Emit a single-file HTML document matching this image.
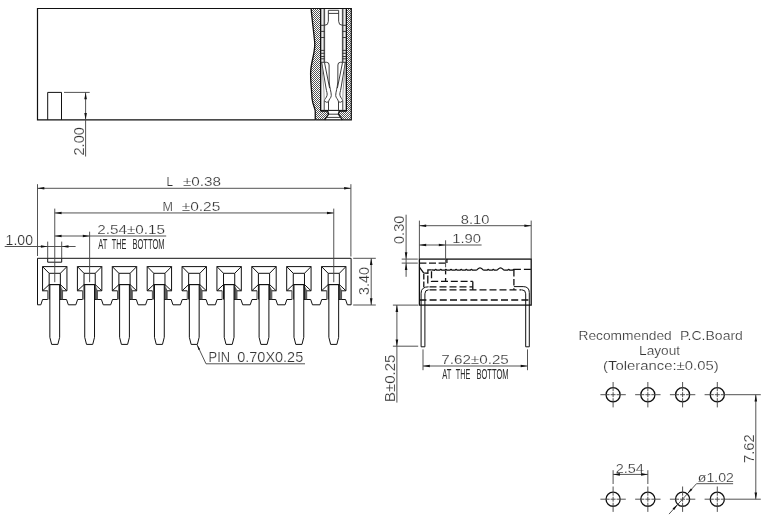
<!DOCTYPE html>
<html><head><meta charset="utf-8"><title>Drawing</title>
<style>
html,body{margin:0;padding:0;background:#fff;overflow:hidden;}
svg{display:block;}
.o{fill:none;stroke:#111;stroke-width:1;}
.o2{fill:none;stroke:#111;stroke-width:1.3;}
.o3{fill:none;stroke:#111;stroke-width:1.2;}
.n{fill:none;stroke:none;}
.d{fill:none;stroke:#4a4a4a;stroke-width:0.95;}
.h{stroke:#111;stroke-width:0.72;}
.e{fill:none;stroke:#888;stroke-width:0.8;}
.i{fill:none;stroke:#333;stroke-width:0.95;}
.a{fill:#111;stroke:none;}
.t{font-family:"Liberation Sans",sans-serif;fill:#333;stroke:#fff;stroke-width:0.2;}
.t2{font-family:"Liberation Sans",sans-serif;fill:#2a2a2a;}
</style></head><body>
<svg width="768" height="519" viewBox="0 0 768 519" style="filter:grayscale(1)">
<rect x="0" y="0" width="768" height="519" fill="#fff"/>
<path class="o3" d="M311.1,8.5 L37.5,8.5 L37.5,119.8 L315.25,119.8" />
<path class="o3" d="M311.1,8.5 L351.3,8.5 L351.3,119.8 L315.25,119.8" />
<path class="o" d="M47.7,119.8 L47.7,92.4 L61.5,92.4 L61.5,119.8" />
<line class="d" x1="64.00" y1="92.40" x2="89.70" y2="92.40" />
<line class="d" x1="85.60" y1="92.40" x2="85.60" y2="156.50" />
<polygon class="a" points="85.60,92.40 86.90,99.20 84.30,99.20"/>
<polygon class="a" points="85.60,119.80 84.30,113.00 86.90,113.00"/>
<text class="t" x="84.10" y="155.53" font-size="14.4" textLength="28.40" lengthAdjust="spacingAndGlyphs" transform="rotate(-90 84.10 155.53)">2.00</text>
<defs>
<clipPath id="hl"><path d="M311.1,8.5 C312.5,24 314.5,38 314.8,44 C314.6,56 310.6,62 310.6,74 C310.6,86 312,92 312,98.5 C313,106 315.25,108 315.25,111.5 L315.25,119.8 L324.6,119.8 L328.6,114.2 L327.7,111 L320.6,111 L320.6,8.5 Z"/></clipPath>
<clipPath id="hr"><path d="M346.6,8.5 L351.3,8.5 L351.3,119.8 L342.4,119.8 L338.5,114.2 L339.3,111 L346.6,111 Z"/></clipPath>
</defs>
<path class="o2" d="M311.1,8.5 C312.5,24 314.5,38 314.8,44 C314.6,56 310.6,62 310.6,74 C310.6,86 312,92 312,98.5 C313,106 315.25,108 315.25,111.5 L315.25,119.8" />
<line class="o" x1="320.50" y1="8.50" x2="320.50" y2="111.00" />
<line class="o" x1="346.50" y1="8.50" x2="346.50" y2="111.00" />
<path class="o2" d="M320.5,111 L327.7,111 L328.6,114.2 L324.6,119.8" />
<path class="o2" d="M346.5,111 L339.3,111 L338.4,114.2 L342.4,119.8" />
<line class="i" x1="328.60" y1="114.20" x2="338.40" y2="114.20" />
<line class="i" x1="326.20" y1="117.40" x2="340.80" y2="117.40" />
<line class="o" x1="321.00" y1="110.40" x2="346.00" y2="110.40" />
<line class="e" x1="321.60" y1="9.00" x2="321.60" y2="110.00" />
<line class="e" x1="323.40" y1="9.00" x2="323.40" y2="62.30" />
<line class="i" x1="324.60" y1="9.00" x2="324.60" y2="62.30" />
<path class="i" d="M328.35,10.3 L328.35,21.3 Q328.35,25.3 324.60,25.3" />
<line class="i" x1="320.50" y1="25.30" x2="324.60" y2="25.30" />
<line class="i" x1="320.50" y1="31.40" x2="324.60" y2="31.40" />
<line class="i" x1="320.50" y1="37.50" x2="324.60" y2="37.50" />
<line class="i" x1="320.50" y1="50.40" x2="324.60" y2="50.40" />
<line class="i" x1="320.50" y1="53.30" x2="324.60" y2="53.30" />
<line class="i" x1="320.50" y1="56.50" x2="324.60" y2="56.50" />
<line class="i" x1="320.50" y1="58.80" x2="324.60" y2="58.80" />
<line class="e" x1="345.40" y1="9.00" x2="345.40" y2="110.00" />
<line class="e" x1="343.60" y1="9.00" x2="343.60" y2="62.30" />
<line class="i" x1="342.40" y1="9.00" x2="342.40" y2="62.30" />
<path class="i" d="M338.65,10.3 L338.65,21.3 Q338.65,25.3 342.40,25.3" />
<line class="i" x1="346.50" y1="25.30" x2="342.40" y2="25.30" />
<line class="i" x1="346.50" y1="31.40" x2="342.40" y2="31.40" />
<line class="i" x1="346.50" y1="37.50" x2="342.40" y2="37.50" />
<line class="i" x1="346.50" y1="50.40" x2="342.40" y2="50.40" />
<line class="i" x1="346.50" y1="53.30" x2="342.40" y2="53.30" />
<line class="i" x1="346.50" y1="56.50" x2="342.40" y2="56.50" />
<line class="i" x1="346.50" y1="58.80" x2="342.40" y2="58.80" />
<line class="i" x1="328.35" y1="10.30" x2="338.65" y2="10.30" />
<line class="i" x1="328.35" y1="13.40" x2="338.65" y2="13.40" />
<path class="i" d="M320.50,62.30 L326.60,62.30 Q329.10,62.30 329.10,65.00 L329.20,82.00 C329.60,88.00 331.30,92.00 331.30,95.50 C331.30,98.00 328.80,99.00 328.50,101.90 " />
<path class="i" d="M321.70,62.60 L326.00,88.00 C326.60,92.00 327.60,93.50 327.00,95.50 C326.40,98.00 324.60,99.00 324.20,100.70 " />
<path class="i" d="M324.50,62.60 L329.60,88.00 " />
<path class="e" d="M321.90,66.00 L323.90,90.00 L324.20,100.70 " />
<path class="i" d="M324.20,100.70 Q326.30,103.20 328.50,101.90 " />
<line class="i" x1="324.20" y1="101.00" x2="324.20" y2="110.50" />
<line class="i" x1="328.50" y1="101.90" x2="328.50" y2="110.50" />
<path class="i" d="M346.50,62.30 L340.40,62.30 Q337.90,62.30 337.90,65.00 L337.80,82.00 C337.40,88.00 335.70,92.00 335.70,95.50 C335.70,98.00 338.20,99.00 338.50,101.90 " />
<path class="i" d="M345.30,62.60 L341.00,88.00 C340.40,92.00 339.40,93.50 340.00,95.50 C340.60,98.00 342.40,99.00 342.80,100.70 " />
<path class="i" d="M342.50,62.60 L337.40,88.00 " />
<path class="e" d="M345.10,66.00 L343.10,90.00 L342.80,100.70 " />
<path class="i" d="M342.80,100.70 Q340.70,103.20 338.50,101.90 " />
<line class="i" x1="342.80" y1="101.00" x2="342.80" y2="110.50" />
<line class="i" x1="338.50" y1="101.90" x2="338.50" y2="110.50" />
<g clip-path="url(#hl)">
<line class="h" x1="309.00" y1="8.00" x2="330.00" y2="-13.00"/>
<line class="h" x1="309.00" y1="10.00" x2="330.00" y2="-11.00"/>
<line class="h" x1="309.00" y1="12.00" x2="330.00" y2="-9.00"/>
<line class="h" x1="309.00" y1="14.00" x2="330.00" y2="-7.00"/>
<line class="h" x1="309.00" y1="16.00" x2="330.00" y2="-5.00"/>
<line class="h" x1="309.00" y1="18.00" x2="330.00" y2="-3.00"/>
<line class="h" x1="309.00" y1="20.00" x2="330.00" y2="-1.00"/>
<line class="h" x1="309.00" y1="22.00" x2="330.00" y2="1.00"/>
<line class="h" x1="309.00" y1="24.00" x2="330.00" y2="3.00"/>
<line class="h" x1="309.00" y1="26.00" x2="330.00" y2="5.00"/>
<line class="h" x1="309.00" y1="28.00" x2="330.00" y2="7.00"/>
<line class="h" x1="309.00" y1="30.00" x2="330.00" y2="9.00"/>
<line class="h" x1="309.00" y1="32.00" x2="330.00" y2="11.00"/>
<line class="h" x1="309.00" y1="34.00" x2="330.00" y2="13.00"/>
<line class="h" x1="309.00" y1="36.00" x2="330.00" y2="15.00"/>
<line class="h" x1="309.00" y1="38.00" x2="330.00" y2="17.00"/>
<line class="h" x1="309.00" y1="40.00" x2="330.00" y2="19.00"/>
<line class="h" x1="309.00" y1="42.00" x2="330.00" y2="21.00"/>
<line class="h" x1="309.00" y1="44.00" x2="330.00" y2="23.00"/>
<line class="h" x1="309.00" y1="46.00" x2="330.00" y2="25.00"/>
<line class="h" x1="309.00" y1="48.00" x2="330.00" y2="27.00"/>
<line class="h" x1="309.00" y1="50.00" x2="330.00" y2="29.00"/>
<line class="h" x1="309.00" y1="52.00" x2="330.00" y2="31.00"/>
<line class="h" x1="309.00" y1="54.00" x2="330.00" y2="33.00"/>
<line class="h" x1="309.00" y1="56.00" x2="330.00" y2="35.00"/>
<line class="h" x1="309.00" y1="58.00" x2="330.00" y2="37.00"/>
<line class="h" x1="309.00" y1="60.00" x2="330.00" y2="39.00"/>
<line class="h" x1="309.00" y1="62.00" x2="330.00" y2="41.00"/>
<line class="h" x1="309.00" y1="64.00" x2="330.00" y2="43.00"/>
<line class="h" x1="309.00" y1="66.00" x2="330.00" y2="45.00"/>
<line class="h" x1="309.00" y1="68.00" x2="330.00" y2="47.00"/>
<line class="h" x1="309.00" y1="70.00" x2="330.00" y2="49.00"/>
<line class="h" x1="309.00" y1="72.00" x2="330.00" y2="51.00"/>
<line class="h" x1="309.00" y1="74.00" x2="330.00" y2="53.00"/>
<line class="h" x1="309.00" y1="76.00" x2="330.00" y2="55.00"/>
<line class="h" x1="309.00" y1="78.00" x2="330.00" y2="57.00"/>
<line class="h" x1="309.00" y1="80.00" x2="330.00" y2="59.00"/>
<line class="h" x1="309.00" y1="82.00" x2="330.00" y2="61.00"/>
<line class="h" x1="309.00" y1="84.00" x2="330.00" y2="63.00"/>
<line class="h" x1="309.00" y1="86.00" x2="330.00" y2="65.00"/>
<line class="h" x1="309.00" y1="88.00" x2="330.00" y2="67.00"/>
<line class="h" x1="309.00" y1="90.00" x2="330.00" y2="69.00"/>
<line class="h" x1="309.00" y1="92.00" x2="330.00" y2="71.00"/>
<line class="h" x1="309.00" y1="94.00" x2="330.00" y2="73.00"/>
<line class="h" x1="309.00" y1="96.00" x2="330.00" y2="75.00"/>
<line class="h" x1="309.00" y1="98.00" x2="330.00" y2="77.00"/>
<line class="h" x1="309.00" y1="100.00" x2="330.00" y2="79.00"/>
<line class="h" x1="309.00" y1="102.00" x2="330.00" y2="81.00"/>
<line class="h" x1="309.00" y1="104.00" x2="330.00" y2="83.00"/>
<line class="h" x1="309.00" y1="106.00" x2="330.00" y2="85.00"/>
<line class="h" x1="309.00" y1="108.00" x2="330.00" y2="87.00"/>
<line class="h" x1="309.00" y1="110.00" x2="330.00" y2="89.00"/>
<line class="h" x1="309.00" y1="112.00" x2="330.00" y2="91.00"/>
<line class="h" x1="309.00" y1="114.00" x2="330.00" y2="93.00"/>
<line class="h" x1="309.00" y1="116.00" x2="330.00" y2="95.00"/>
<line class="h" x1="309.00" y1="118.00" x2="330.00" y2="97.00"/>
<line class="h" x1="309.00" y1="120.00" x2="330.00" y2="99.00"/>
<line class="h" x1="309.00" y1="122.00" x2="330.00" y2="101.00"/>
<line class="h" x1="309.00" y1="124.00" x2="330.00" y2="103.00"/>
<line class="h" x1="309.00" y1="126.00" x2="330.00" y2="105.00"/>
<line class="h" x1="309.00" y1="128.00" x2="330.00" y2="107.00"/>
<line class="h" x1="309.00" y1="130.00" x2="330.00" y2="109.00"/>
<line class="h" x1="309.00" y1="132.00" x2="330.00" y2="111.00"/>
<line class="h" x1="309.00" y1="134.00" x2="330.00" y2="113.00"/>
<line class="h" x1="309.00" y1="136.00" x2="330.00" y2="115.00"/>
<line class="h" x1="309.00" y1="138.00" x2="330.00" y2="117.00"/>
<line class="h" x1="309.00" y1="140.00" x2="330.00" y2="119.00"/>
</g>
<g clip-path="url(#hr)">
<line class="h" x1="338.00" y1="8.00" x2="352.00" y2="-6.00"/>
<line class="h" x1="338.00" y1="10.00" x2="352.00" y2="-4.00"/>
<line class="h" x1="338.00" y1="12.00" x2="352.00" y2="-2.00"/>
<line class="h" x1="338.00" y1="14.00" x2="352.00" y2="0.00"/>
<line class="h" x1="338.00" y1="16.00" x2="352.00" y2="2.00"/>
<line class="h" x1="338.00" y1="18.00" x2="352.00" y2="4.00"/>
<line class="h" x1="338.00" y1="20.00" x2="352.00" y2="6.00"/>
<line class="h" x1="338.00" y1="22.00" x2="352.00" y2="8.00"/>
<line class="h" x1="338.00" y1="24.00" x2="352.00" y2="10.00"/>
<line class="h" x1="338.00" y1="26.00" x2="352.00" y2="12.00"/>
<line class="h" x1="338.00" y1="28.00" x2="352.00" y2="14.00"/>
<line class="h" x1="338.00" y1="30.00" x2="352.00" y2="16.00"/>
<line class="h" x1="338.00" y1="32.00" x2="352.00" y2="18.00"/>
<line class="h" x1="338.00" y1="34.00" x2="352.00" y2="20.00"/>
<line class="h" x1="338.00" y1="36.00" x2="352.00" y2="22.00"/>
<line class="h" x1="338.00" y1="38.00" x2="352.00" y2="24.00"/>
<line class="h" x1="338.00" y1="40.00" x2="352.00" y2="26.00"/>
<line class="h" x1="338.00" y1="42.00" x2="352.00" y2="28.00"/>
<line class="h" x1="338.00" y1="44.00" x2="352.00" y2="30.00"/>
<line class="h" x1="338.00" y1="46.00" x2="352.00" y2="32.00"/>
<line class="h" x1="338.00" y1="48.00" x2="352.00" y2="34.00"/>
<line class="h" x1="338.00" y1="50.00" x2="352.00" y2="36.00"/>
<line class="h" x1="338.00" y1="52.00" x2="352.00" y2="38.00"/>
<line class="h" x1="338.00" y1="54.00" x2="352.00" y2="40.00"/>
<line class="h" x1="338.00" y1="56.00" x2="352.00" y2="42.00"/>
<line class="h" x1="338.00" y1="58.00" x2="352.00" y2="44.00"/>
<line class="h" x1="338.00" y1="60.00" x2="352.00" y2="46.00"/>
<line class="h" x1="338.00" y1="62.00" x2="352.00" y2="48.00"/>
<line class="h" x1="338.00" y1="64.00" x2="352.00" y2="50.00"/>
<line class="h" x1="338.00" y1="66.00" x2="352.00" y2="52.00"/>
<line class="h" x1="338.00" y1="68.00" x2="352.00" y2="54.00"/>
<line class="h" x1="338.00" y1="70.00" x2="352.00" y2="56.00"/>
<line class="h" x1="338.00" y1="72.00" x2="352.00" y2="58.00"/>
<line class="h" x1="338.00" y1="74.00" x2="352.00" y2="60.00"/>
<line class="h" x1="338.00" y1="76.00" x2="352.00" y2="62.00"/>
<line class="h" x1="338.00" y1="78.00" x2="352.00" y2="64.00"/>
<line class="h" x1="338.00" y1="80.00" x2="352.00" y2="66.00"/>
<line class="h" x1="338.00" y1="82.00" x2="352.00" y2="68.00"/>
<line class="h" x1="338.00" y1="84.00" x2="352.00" y2="70.00"/>
<line class="h" x1="338.00" y1="86.00" x2="352.00" y2="72.00"/>
<line class="h" x1="338.00" y1="88.00" x2="352.00" y2="74.00"/>
<line class="h" x1="338.00" y1="90.00" x2="352.00" y2="76.00"/>
<line class="h" x1="338.00" y1="92.00" x2="352.00" y2="78.00"/>
<line class="h" x1="338.00" y1="94.00" x2="352.00" y2="80.00"/>
<line class="h" x1="338.00" y1="96.00" x2="352.00" y2="82.00"/>
<line class="h" x1="338.00" y1="98.00" x2="352.00" y2="84.00"/>
<line class="h" x1="338.00" y1="100.00" x2="352.00" y2="86.00"/>
<line class="h" x1="338.00" y1="102.00" x2="352.00" y2="88.00"/>
<line class="h" x1="338.00" y1="104.00" x2="352.00" y2="90.00"/>
<line class="h" x1="338.00" y1="106.00" x2="352.00" y2="92.00"/>
<line class="h" x1="338.00" y1="108.00" x2="352.00" y2="94.00"/>
<line class="h" x1="338.00" y1="110.00" x2="352.00" y2="96.00"/>
<line class="h" x1="338.00" y1="112.00" x2="352.00" y2="98.00"/>
<line class="h" x1="338.00" y1="114.00" x2="352.00" y2="100.00"/>
<line class="h" x1="338.00" y1="116.00" x2="352.00" y2="102.00"/>
<line class="h" x1="338.00" y1="118.00" x2="352.00" y2="104.00"/>
<line class="h" x1="338.00" y1="120.00" x2="352.00" y2="106.00"/>
<line class="h" x1="338.00" y1="122.00" x2="352.00" y2="108.00"/>
<line class="h" x1="338.00" y1="124.00" x2="352.00" y2="110.00"/>
<line class="h" x1="338.00" y1="126.00" x2="352.00" y2="112.00"/>
<line class="h" x1="338.00" y1="128.00" x2="352.00" y2="114.00"/>
<line class="h" x1="338.00" y1="130.00" x2="352.00" y2="116.00"/>
<line class="h" x1="338.00" y1="132.00" x2="352.00" y2="118.00"/>
</g>
<path class="o" d="M37.5,304.8 L37.5,258.3 L351.1,258.3 L351.1,304.8" />
<path class="o" d="M37.5,304.8 L40.85,304.8 L42.55,299.5 L47.75,299.5" />
<path class="o" d="M59.75,299.5 L66.55,299.5 L68.35,304.8 L75.83,304.8 L77.62,299.5 L82.62,299.5" />
<path class="o" d="M94.62,299.5 L101.42,299.5 L103.23,304.8 L110.70,304.8 L112.50,299.5 L117.50,299.5" />
<path class="o" d="M129.50,299.5 L136.30,299.5 L138.10,304.8 L145.58,304.8 L147.38,299.5 L152.38,299.5" />
<path class="o" d="M164.38,299.5 L171.17,299.5 L172.97,304.8 L180.45,304.8 L182.25,299.5 L187.25,299.5" />
<path class="o" d="M199.25,299.5 L206.05,299.5 L207.85,304.8 L215.33,304.8 L217.12,299.5 L222.12,299.5" />
<path class="o" d="M234.12,299.5 L240.92,299.5 L242.72,304.8 L250.20,304.8 L252.00,299.5 L257.00,299.5" />
<path class="o" d="M269.00,299.5 L275.80,299.5 L277.60,304.8 L285.07,304.8 L286.88,299.5 L291.88,299.5" />
<path class="o" d="M303.88,299.5 L310.68,299.5 L312.47,304.8 L319.95,304.8 L321.75,299.5 L326.75,299.5" />
<path class="o" d="M338.75,299.5 L345.55,299.5 L347.35,304.8 L351.1,304.8" />
<path class="o" d="M47.7,258.3 L47.7,262.2 L61.7,262.2 L61.7,258.3" />
<path class="o" d="M47.75,290.8 L42.55,290.8 L42.55,266.6 L66.95,266.6 L66.95,290.8 L62.55,290.8" />
<path class="o" d="M49.15,299.5 L49.15,273.3 L60.35,273.3 L60.35,299.5" />
<line class="o" x1="42.55" y1="266.60" x2="49.15" y2="273.30" />
<line class="o" x1="66.95" y1="266.60" x2="60.35" y2="273.30" />
<line class="o" x1="42.55" y1="290.80" x2="49.15" y2="284.60" />
<line class="o" x1="66.95" y1="290.80" x2="60.35" y2="284.60" />
<path class="o" d="M49.85,284.6 L49.85,337.3 L51.65,344.4 L57.85,344.4 L59.65,337.3 L59.65,284.6 Z" />
<line class="o" x1="49.15" y1="284.60" x2="60.35" y2="284.60" />
<line class="d" x1="47.75" y1="290.80" x2="47.75" y2="299.50" />
<line class="d" x1="61.15" y1="287.33" x2="61.15" y2="299.50" />
<line class="d" x1="61.85" y1="288.70" x2="61.85" y2="299.50" />
<line class="d" x1="62.55" y1="290.06" x2="62.55" y2="299.50" />
<path class="o" d="M82.62,290.8 L77.42,290.8 L77.42,266.6 L101.83,266.6 L101.83,290.8 L97.42,290.8" />
<path class="o" d="M84.03,299.5 L84.03,273.3 L95.22,273.3 L95.22,299.5" />
<line class="o" x1="77.42" y1="266.60" x2="84.03" y2="273.30" />
<line class="o" x1="101.83" y1="266.60" x2="95.22" y2="273.30" />
<line class="o" x1="77.42" y1="290.80" x2="84.03" y2="284.60" />
<line class="o" x1="101.83" y1="290.80" x2="95.22" y2="284.60" />
<path class="o" d="M84.72,284.6 L84.72,337.3 L86.53,344.4 L92.72,344.4 L94.53,337.3 L94.53,284.6 Z" />
<line class="o" x1="84.03" y1="284.60" x2="95.22" y2="284.60" />
<line class="d" x1="82.62" y1="290.80" x2="82.62" y2="299.50" />
<line class="d" x1="96.03" y1="287.33" x2="96.03" y2="299.50" />
<line class="d" x1="96.72" y1="288.70" x2="96.72" y2="299.50" />
<line class="d" x1="97.42" y1="290.06" x2="97.42" y2="299.50" />
<path class="o" d="M117.50,290.8 L112.30,290.8 L112.30,266.6 L136.70,266.6 L136.70,290.8 L132.30,290.8" />
<path class="o" d="M118.90,299.5 L118.90,273.3 L130.10,273.3 L130.10,299.5" />
<line class="o" x1="112.30" y1="266.60" x2="118.90" y2="273.30" />
<line class="o" x1="136.70" y1="266.60" x2="130.10" y2="273.30" />
<line class="o" x1="112.30" y1="290.80" x2="118.90" y2="284.60" />
<line class="o" x1="136.70" y1="290.80" x2="130.10" y2="284.60" />
<path class="o" d="M119.60,284.6 L119.60,337.3 L121.40,344.4 L127.60,344.4 L129.40,337.3 L129.40,284.6 Z" />
<line class="o" x1="118.90" y1="284.60" x2="130.10" y2="284.60" />
<line class="d" x1="117.50" y1="290.80" x2="117.50" y2="299.50" />
<line class="d" x1="130.90" y1="287.33" x2="130.90" y2="299.50" />
<line class="d" x1="131.60" y1="288.70" x2="131.60" y2="299.50" />
<line class="d" x1="132.30" y1="290.06" x2="132.30" y2="299.50" />
<path class="o" d="M152.38,290.8 L147.18,290.8 L147.18,266.6 L171.57,266.6 L171.57,290.8 L167.18,290.8" />
<path class="o" d="M153.78,299.5 L153.78,273.3 L164.97,273.3 L164.97,299.5" />
<line class="o" x1="147.18" y1="266.60" x2="153.78" y2="273.30" />
<line class="o" x1="171.57" y1="266.60" x2="164.97" y2="273.30" />
<line class="o" x1="147.18" y1="290.80" x2="153.78" y2="284.60" />
<line class="o" x1="171.57" y1="290.80" x2="164.97" y2="284.60" />
<path class="o" d="M154.47,284.6 L154.47,337.3 L156.28,344.4 L162.47,344.4 L164.28,337.3 L164.28,284.6 Z" />
<line class="o" x1="153.78" y1="284.60" x2="164.97" y2="284.60" />
<line class="d" x1="152.38" y1="290.80" x2="152.38" y2="299.50" />
<line class="d" x1="165.78" y1="287.33" x2="165.78" y2="299.50" />
<line class="d" x1="166.47" y1="288.70" x2="166.47" y2="299.50" />
<line class="d" x1="167.18" y1="290.06" x2="167.18" y2="299.50" />
<path class="o" d="M187.25,290.8 L182.05,290.8 L182.05,266.6 L206.45,266.6 L206.45,290.8 L202.05,290.8" />
<path class="o" d="M188.65,299.5 L188.65,273.3 L199.85,273.3 L199.85,299.5" />
<line class="o" x1="182.05" y1="266.60" x2="188.65" y2="273.30" />
<line class="o" x1="206.45" y1="266.60" x2="199.85" y2="273.30" />
<line class="o" x1="182.05" y1="290.80" x2="188.65" y2="284.60" />
<line class="o" x1="206.45" y1="290.80" x2="199.85" y2="284.60" />
<path class="o" d="M189.35,284.6 L189.35,337.3 L191.15,344.4 L197.35,344.4 L199.15,337.3 L199.15,284.6 Z" />
<line class="o" x1="188.65" y1="284.60" x2="199.85" y2="284.60" />
<line class="d" x1="187.25" y1="290.80" x2="187.25" y2="299.50" />
<line class="d" x1="200.65" y1="287.33" x2="200.65" y2="299.50" />
<line class="d" x1="201.35" y1="288.70" x2="201.35" y2="299.50" />
<line class="d" x1="202.05" y1="290.06" x2="202.05" y2="299.50" />
<path class="o" d="M222.12,290.8 L216.93,290.8 L216.93,266.6 L241.32,266.6 L241.32,290.8 L236.93,290.8" />
<path class="o" d="M223.53,299.5 L223.53,273.3 L234.72,273.3 L234.72,299.5" />
<line class="o" x1="216.93" y1="266.60" x2="223.53" y2="273.30" />
<line class="o" x1="241.32" y1="266.60" x2="234.72" y2="273.30" />
<line class="o" x1="216.93" y1="290.80" x2="223.53" y2="284.60" />
<line class="o" x1="241.32" y1="290.80" x2="234.72" y2="284.60" />
<path class="o" d="M224.22,284.6 L224.22,337.3 L226.03,344.4 L232.22,344.4 L234.03,337.3 L234.03,284.6 Z" />
<line class="o" x1="223.53" y1="284.60" x2="234.72" y2="284.60" />
<line class="d" x1="222.12" y1="290.80" x2="222.12" y2="299.50" />
<line class="d" x1="235.53" y1="287.33" x2="235.53" y2="299.50" />
<line class="d" x1="236.22" y1="288.70" x2="236.22" y2="299.50" />
<line class="d" x1="236.93" y1="290.06" x2="236.93" y2="299.50" />
<path class="o" d="M257.00,290.8 L251.80,290.8 L251.80,266.6 L276.20,266.6 L276.20,290.8 L271.80,290.8" />
<path class="o" d="M258.40,299.5 L258.40,273.3 L269.60,273.3 L269.60,299.5" />
<line class="o" x1="251.80" y1="266.60" x2="258.40" y2="273.30" />
<line class="o" x1="276.20" y1="266.60" x2="269.60" y2="273.30" />
<line class="o" x1="251.80" y1="290.80" x2="258.40" y2="284.60" />
<line class="o" x1="276.20" y1="290.80" x2="269.60" y2="284.60" />
<path class="o" d="M259.10,284.6 L259.10,337.3 L260.90,344.4 L267.10,344.4 L268.90,337.3 L268.90,284.6 Z" />
<line class="o" x1="258.40" y1="284.60" x2="269.60" y2="284.60" />
<line class="d" x1="257.00" y1="290.80" x2="257.00" y2="299.50" />
<line class="d" x1="270.40" y1="287.33" x2="270.40" y2="299.50" />
<line class="d" x1="271.10" y1="288.70" x2="271.10" y2="299.50" />
<line class="d" x1="271.80" y1="290.06" x2="271.80" y2="299.50" />
<path class="o" d="M291.88,290.8 L286.68,290.8 L286.68,266.6 L311.07,266.6 L311.07,290.8 L306.68,290.8" />
<path class="o" d="M293.27,299.5 L293.27,273.3 L304.48,273.3 L304.48,299.5" />
<line class="o" x1="286.68" y1="266.60" x2="293.27" y2="273.30" />
<line class="o" x1="311.07" y1="266.60" x2="304.48" y2="273.30" />
<line class="o" x1="286.68" y1="290.80" x2="293.27" y2="284.60" />
<line class="o" x1="311.07" y1="290.80" x2="304.48" y2="284.60" />
<path class="o" d="M293.98,284.6 L293.98,337.3 L295.77,344.4 L301.98,344.4 L303.77,337.3 L303.77,284.6 Z" />
<line class="o" x1="293.27" y1="284.60" x2="304.48" y2="284.60" />
<line class="d" x1="291.88" y1="290.80" x2="291.88" y2="299.50" />
<line class="d" x1="305.27" y1="287.33" x2="305.27" y2="299.50" />
<line class="d" x1="305.98" y1="288.70" x2="305.98" y2="299.50" />
<line class="d" x1="306.68" y1="290.06" x2="306.68" y2="299.50" />
<path class="o" d="M326.75,290.8 L321.55,290.8 L321.55,266.6 L345.95,266.6 L345.95,290.8 L341.55,290.8" />
<path class="o" d="M328.15,299.5 L328.15,273.3 L339.35,273.3 L339.35,299.5" />
<line class="o" x1="321.55" y1="266.60" x2="328.15" y2="273.30" />
<line class="o" x1="345.95" y1="266.60" x2="339.35" y2="273.30" />
<line class="o" x1="321.55" y1="290.80" x2="328.15" y2="284.60" />
<line class="o" x1="345.95" y1="290.80" x2="339.35" y2="284.60" />
<path class="o" d="M328.85,284.6 L328.85,337.3 L330.65,344.4 L336.85,344.4 L338.65,337.3 L338.65,284.6 Z" />
<line class="o" x1="328.15" y1="284.60" x2="339.35" y2="284.60" />
<line class="d" x1="326.75" y1="290.80" x2="326.75" y2="299.50" />
<line class="d" x1="340.15" y1="287.33" x2="340.15" y2="299.50" />
<line class="d" x1="340.85" y1="288.70" x2="340.85" y2="299.50" />
<line class="d" x1="341.55" y1="290.06" x2="341.55" y2="299.50" />
<line class="d" x1="37.50" y1="184.20" x2="37.50" y2="256.00" />
<line class="d" x1="350.90" y1="184.20" x2="350.90" y2="256.50" />
<line class="d" x1="37.50" y1="188.30" x2="350.90" y2="188.30" />
<polygon class="a" points="37.50,188.30 44.30,187.00 44.30,189.60"/>
<polygon class="a" points="350.90,188.30 344.10,189.60 344.10,187.00"/>
<text class="t" x="166.53" y="186.40" font-size="13.0" textLength="6.56" lengthAdjust="spacingAndGlyphs">L</text>
<text class="t" x="182.91" y="186.40" font-size="13.0" textLength="38.15" lengthAdjust="spacingAndGlyphs">±0.38</text>
<line class="d" x1="54.75" y1="208.60" x2="54.75" y2="282.20" />
<line class="d" x1="333.75" y1="208.60" x2="333.75" y2="282.20" />
<line class="d" x1="54.75" y1="212.95" x2="333.75" y2="212.95" />
<polygon class="a" points="54.75,212.95 61.55,211.65 61.55,214.25"/>
<polygon class="a" points="333.75,212.95 326.95,214.25 326.95,211.65"/>
<text class="t" x="162.47" y="211.40" font-size="13.0" textLength="10.46" lengthAdjust="spacingAndGlyphs">M</text>
<text class="t" x="181.70" y="211.40" font-size="13.0" textLength="38.65" lengthAdjust="spacingAndGlyphs">±0.25</text>
<line class="d" x1="89.62" y1="231.70" x2="89.62" y2="282.20" />
<line class="d" x1="54.75" y1="236.00" x2="166.20" y2="236.00" />
<polygon class="a" points="54.75,236.00 61.55,234.70 61.55,237.30"/>
<polygon class="a" points="89.62,236.00 82.83,237.30 82.83,234.70"/>
<text class="t" x="97.24" y="234.00" font-size="13.0" textLength="67.81" lengthAdjust="spacingAndGlyphs">2.54±0.15</text>
<text class="t2" x="98.23" y="248.70" font-size="13.8" textLength="9.09" lengthAdjust="spacingAndGlyphs">AT</text>
<text class="t2" x="111.84" y="248.70" font-size="13.8" textLength="14.47" lengthAdjust="spacingAndGlyphs">THE</text>
<text class="t2" x="132.48" y="248.70" font-size="13.8" textLength="32.04" lengthAdjust="spacingAndGlyphs">BOTTOM</text>
<line class="d" x1="47.70" y1="241.60" x2="47.70" y2="258.30" />
<line class="d" x1="61.70" y1="241.60" x2="61.70" y2="258.30" />
<line class="d" x1="4.70" y1="246.50" x2="75.60" y2="246.50" />
<polygon class="a" points="47.70,246.50 40.90,247.80 40.90,245.20"/>
<polygon class="a" points="61.70,246.50 68.50,245.20 68.50,247.80"/>
<text class="t" x="5.63" y="245.00" font-size="13.8" textLength="27.32" lengthAdjust="spacingAndGlyphs">1.00</text>
<line class="d" x1="353.20" y1="258.30" x2="375.80" y2="258.30" />
<line class="d" x1="353.20" y1="305.00" x2="375.80" y2="305.00" />
<line class="d" x1="371.20" y1="258.30" x2="371.20" y2="305.00" />
<polygon class="a" points="371.20,258.30 372.50,265.10 369.90,265.10"/>
<polygon class="a" points="371.20,305.00 369.90,298.20 372.50,298.20"/>
<text class="t" x="368.80" y="294.94" font-size="14.4" textLength="27.91" lengthAdjust="spacingAndGlyphs" transform="rotate(-90 368.80 294.94)">3.40</text>
<path class="d" d="M197.0,344.6 L206.0,363.8 L305.0,363.8" />
<polygon class="a" points="197.00,344.60 200.15,349.20 198.52,349.96"/>
<text class="t" x="208.54" y="361.70" font-size="13.8" textLength="21.50" lengthAdjust="spacingAndGlyphs">PIN</text>
<text class="t" x="237.24" y="361.70" font-size="13.8" textLength="65.98" lengthAdjust="spacingAndGlyphs">0.70X0.25</text>
<rect class="o2" x="419.4" y="259.1" width="111.80" height="46.00"/>
<line class="o2" x1="419.40" y1="263.10" x2="447.20" y2="263.10" stroke-dasharray="7 2.6"/>
<line class="o2" x1="446.90" y1="259.10" x2="446.90" y2="263.10" />
<line class="o2" x1="419.40" y1="300.00" x2="531.20" y2="300.00" stroke-dasharray="7 3.2"/>
<path class="o2" d="M419.4,267.1 L423.6,272.9 L427.9,273.2 L427.9,269.8 L431.6,269.8" />
<path class="o2" d="M431.6,269.8 L434.70,270.2 Q435.70,268.4 436.70,270.2 L439.80,270.2 Q440.80,268.4 441.80,270.2 L444.90,270.2 Q445.90,268.4 446.90,270.2 L450.00,270.2 Q451.00,268.4 452.00,270.2 L455.10,270.2 Q456.10,268.4 457.10,270.2 L460.20,270.2 Q461.20,268.4 462.20,270.2 L465.30,270.2 Q466.30,268.4 467.30,270.2 L470.40,270.2 Q471.40,268.4 472.40,270.2 L475.90,270.2 C477.70,270.2 477.70,267.8 480.00,267.8 C482.30,267.8 482.30,270.2 484.10,270.2 L487.20,270.2 Q488.20,268.4 489.20,270.2 L492.30,270.2 Q493.30,268.4 494.30,270.2 L496.40,270.2 C498.20,270.2 498.20,267.8 500.50,267.8 C502.80,267.8 502.80,270.2 504.60,270.2 L507.70,270.2 Q508.70,268.4 509.70,270.2 L512.80,270.2 Q513.80,268.4 513.90,270.2" />
<line class="o2" x1="513.90" y1="269.40" x2="531.20" y2="269.40" stroke-dasharray="7 3"/>
<line class="o2" x1="513.90" y1="270.00" x2="513.90" y2="289.70" stroke-dasharray="6.5 2.6"/>
<path class="o2" d="M431.5,271.3 L431.5,281.4 L472.8,281.4" stroke-dasharray="7 2.8"/>
<line class="o2" x1="472.80" y1="281.40" x2="472.80" y2="289.80" />
<line class="o2" x1="427.80" y1="275.50" x2="427.80" y2="283.50" />
<line class="o2" x1="423.80" y1="274.00" x2="423.80" y2="288.00" stroke-dasharray="5.5 2"/>
<line class="o2" x1="429.50" y1="286.80" x2="472.80" y2="286.80" stroke-dasharray="7 3"/>
<line class="o2" x1="429.50" y1="289.80" x2="521.50" y2="289.80" stroke-dasharray="7 3"/>
<path class="o" d="M428.6,286.8 Q421.1,286.8 421.1,293.2 L421.1,346.8 L424.9,346.8 L424.9,293.8 Q424.9,289.8 428.6,289.8" />
<path class="o" d="M513.9,286.6 L523.2,286.6 Q529.3,286.6 529.3,292.6 L529.3,346.8 L525.7,346.8 L525.7,293.8 Q525.7,289.8 521.8,289.8" />
<line class="d" x1="419.40" y1="220.60" x2="419.40" y2="259.10" />
<line class="d" x1="531.20" y1="220.60" x2="531.20" y2="259.10" />
<line class="d" x1="419.40" y1="225.70" x2="531.20" y2="225.70" />
<polygon class="a" points="419.40,225.70 426.20,224.40 426.20,227.00"/>
<polygon class="a" points="531.20,225.70 524.40,227.00 524.40,224.40"/>
<text class="t" x="460.87" y="223.90" font-size="13.2" textLength="28.61" lengthAdjust="spacingAndGlyphs">8.10</text>
<line class="d" x1="445.60" y1="240.30" x2="445.60" y2="267.30" />
<line class="o2" x1="445.60" y1="270.40" x2="445.60" y2="274.40" />
<line class="o2" x1="445.60" y1="278.00" x2="445.60" y2="281.40" />
<line class="d" x1="419.40" y1="245.00" x2="481.60" y2="245.00" />
<polygon class="a" points="419.40,245.00 426.20,243.70 426.20,246.30"/>
<polygon class="a" points="445.60,245.00 438.80,246.30 438.80,243.70"/>
<text class="t" x="452.18" y="242.80" font-size="13.0" textLength="28.81" lengthAdjust="spacingAndGlyphs">1.90</text>
<line class="d" x1="401.70" y1="259.10" x2="417.80" y2="259.10" />
<line class="d" x1="401.70" y1="263.10" x2="417.80" y2="263.10" />
<line class="d" x1="406.10" y1="214.70" x2="406.10" y2="276.80" />
<polygon class="a" points="406.10,259.10 404.80,252.30 407.40,252.30"/>
<polygon class="a" points="406.10,263.10 407.40,269.90 404.80,269.90"/>
<text class="t" x="403.90" y="243.97" font-size="14.4" textLength="28.34" lengthAdjust="spacingAndGlyphs" transform="rotate(-90 403.90 243.97)">0.30</text>
<line class="d" x1="392.90" y1="305.10" x2="418.20" y2="305.10" />
<line class="d" x1="392.90" y1="346.20" x2="418.20" y2="346.20" />
<line class="d" x1="396.90" y1="305.10" x2="396.90" y2="402.60" />
<polygon class="a" points="396.90,305.10 398.20,311.90 395.60,311.90"/>
<polygon class="a" points="396.90,346.20 395.60,339.40 398.20,339.40"/>
<text class="t" x="395.30" y="402.03" font-size="14.4" textLength="47.46" lengthAdjust="spacingAndGlyphs" transform="rotate(-90 395.30 402.03)">B±0.25</text>
<line class="d" x1="423.00" y1="349.40" x2="423.00" y2="370.20" />
<line class="d" x1="527.50" y1="349.40" x2="527.50" y2="370.20" />
<line class="d" x1="423.00" y1="366.00" x2="527.50" y2="366.00" />
<polygon class="a" points="423.00,366.00 429.80,364.70 429.80,367.30"/>
<polygon class="a" points="527.50,366.00 520.70,367.30 520.70,364.70"/>
<text class="t" x="441.22" y="364.00" font-size="13.0" textLength="67.62" lengthAdjust="spacingAndGlyphs">7.62±0.25</text>
<text class="t2" x="442.23" y="378.70" font-size="13.8" textLength="9.09" lengthAdjust="spacingAndGlyphs">AT</text>
<text class="t2" x="455.84" y="378.70" font-size="13.8" textLength="14.47" lengthAdjust="spacingAndGlyphs">THE</text>
<text class="t2" x="476.48" y="378.70" font-size="13.8" textLength="32.04" lengthAdjust="spacingAndGlyphs">BOTTOM</text>
<circle class="o2" cx="613.1" cy="394.7" r="7.05"/>
<line class="d" x1="600.40" y1="394.70" x2="609.60" y2="394.70" />
<line class="d" x1="616.60" y1="394.70" x2="625.80" y2="394.70" />
<line class="d" x1="610.60" y1="394.70" x2="615.60" y2="394.70" />
<line class="d" x1="613.10" y1="382.00" x2="613.10" y2="391.20" />
<line class="d" x1="613.10" y1="398.20" x2="613.10" y2="407.40" />
<line class="d" x1="613.10" y1="392.20" x2="613.10" y2="397.20" />
<circle class="o2" cx="647.85" cy="394.7" r="7.05"/>
<line class="d" x1="635.15" y1="394.70" x2="644.35" y2="394.70" />
<line class="d" x1="651.35" y1="394.70" x2="660.55" y2="394.70" />
<line class="d" x1="645.35" y1="394.70" x2="650.35" y2="394.70" />
<line class="d" x1="647.85" y1="382.00" x2="647.85" y2="391.20" />
<line class="d" x1="647.85" y1="398.20" x2="647.85" y2="407.40" />
<line class="d" x1="647.85" y1="392.20" x2="647.85" y2="397.20" />
<circle class="o2" cx="682.6" cy="394.7" r="7.05"/>
<line class="d" x1="669.90" y1="394.70" x2="679.10" y2="394.70" />
<line class="d" x1="686.10" y1="394.70" x2="695.30" y2="394.70" />
<line class="d" x1="680.10" y1="394.70" x2="685.10" y2="394.70" />
<line class="d" x1="682.60" y1="382.00" x2="682.60" y2="391.20" />
<line class="d" x1="682.60" y1="398.20" x2="682.60" y2="407.40" />
<line class="d" x1="682.60" y1="392.20" x2="682.60" y2="397.20" />
<circle class="o2" cx="717.3" cy="394.7" r="7.05"/>
<line class="d" x1="704.60" y1="394.70" x2="713.80" y2="394.70" />
<line class="d" x1="720.80" y1="394.70" x2="730.00" y2="394.70" />
<line class="d" x1="714.80" y1="394.70" x2="719.80" y2="394.70" />
<line class="d" x1="717.30" y1="382.00" x2="717.30" y2="391.20" />
<line class="d" x1="717.30" y1="398.20" x2="717.30" y2="407.40" />
<line class="d" x1="717.30" y1="392.20" x2="717.30" y2="397.20" />
<circle class="o2" cx="613.1" cy="499.2" r="7.05"/>
<line class="d" x1="600.40" y1="499.20" x2="609.60" y2="499.20" />
<line class="d" x1="616.60" y1="499.20" x2="625.80" y2="499.20" />
<line class="d" x1="610.60" y1="499.20" x2="615.60" y2="499.20" />
<line class="d" x1="613.10" y1="486.50" x2="613.10" y2="495.70" />
<line class="d" x1="613.10" y1="502.70" x2="613.10" y2="511.90" />
<line class="d" x1="613.10" y1="496.70" x2="613.10" y2="501.70" />
<circle class="o2" cx="647.85" cy="499.2" r="7.05"/>
<line class="d" x1="635.15" y1="499.20" x2="644.35" y2="499.20" />
<line class="d" x1="651.35" y1="499.20" x2="660.55" y2="499.20" />
<line class="d" x1="645.35" y1="499.20" x2="650.35" y2="499.20" />
<line class="d" x1="647.85" y1="486.50" x2="647.85" y2="495.70" />
<line class="d" x1="647.85" y1="502.70" x2="647.85" y2="511.90" />
<line class="d" x1="647.85" y1="496.70" x2="647.85" y2="501.70" />
<circle class="o2" cx="682.6" cy="499.2" r="7.05"/>
<line class="d" x1="669.90" y1="499.20" x2="679.10" y2="499.20" />
<line class="d" x1="686.10" y1="499.20" x2="695.30" y2="499.20" />
<line class="d" x1="680.10" y1="499.20" x2="685.10" y2="499.20" />
<line class="d" x1="682.60" y1="486.50" x2="682.60" y2="495.70" />
<line class="d" x1="682.60" y1="502.70" x2="682.60" y2="511.90" />
<line class="d" x1="682.60" y1="496.70" x2="682.60" y2="501.70" />
<circle class="o2" cx="717.3" cy="499.2" r="7.05"/>
<line class="d" x1="704.60" y1="499.20" x2="713.80" y2="499.20" />
<line class="d" x1="720.80" y1="499.20" x2="730.00" y2="499.20" />
<line class="d" x1="714.80" y1="499.20" x2="719.80" y2="499.20" />
<line class="d" x1="717.30" y1="486.50" x2="717.30" y2="495.70" />
<line class="d" x1="717.30" y1="502.70" x2="717.30" y2="511.90" />
<line class="d" x1="717.30" y1="496.70" x2="717.30" y2="501.70" />
<text class="t" x="578.47" y="340.30" font-size="12.8" textLength="93.31" lengthAdjust="spacingAndGlyphs">Recommended</text>
<text class="t" x="680.05" y="340.30" font-size="12.8" textLength="62.85" lengthAdjust="spacingAndGlyphs">P.C.Board</text>
<text class="t" x="639.08" y="355.30" font-size="12.8" textLength="41.01" lengthAdjust="spacingAndGlyphs">Layout</text>
<text class="t" x="603.08" y="370.20" font-size="12.8" textLength="115.54" lengthAdjust="spacingAndGlyphs">(Tolerance:±0.05)</text>
<line class="d" x1="729.90" y1="394.70" x2="760.80" y2="394.70" />
<line class="d" x1="729.90" y1="499.20" x2="760.80" y2="499.20" />
<line class="d" x1="755.80" y1="394.70" x2="755.80" y2="499.20" />
<polygon class="a" points="755.80,394.70 757.10,401.50 754.50,401.50"/>
<polygon class="a" points="755.80,499.20 754.50,492.40 757.10,492.40"/>
<text class="t" x="754.30" y="462.95" font-size="14.4" textLength="28.69" lengthAdjust="spacingAndGlyphs" transform="rotate(-90 754.30 462.95)">7.62</text>
<line class="d" x1="613.10" y1="470.20" x2="613.10" y2="484.00" />
<line class="d" x1="647.85" y1="470.20" x2="647.85" y2="484.00" />
<line class="d" x1="613.10" y1="474.40" x2="647.85" y2="474.40" />
<polygon class="a" points="613.10,474.40 619.90,473.10 619.90,475.70"/>
<polygon class="a" points="647.85,474.40 641.05,475.70 641.05,473.10"/>
<text class="t" x="615.78" y="472.90" font-size="13.0" textLength="28.15" lengthAdjust="spacingAndGlyphs">2.54</text>
<path class="d" d="M669.0,514.1 L696.5,483.7 L733.1,483.7" />
<polygon class="a" points="677.80,504.30 674.17,509.92 672.54,508.44"/>
<polygon class="a" points="687.20,494.00 690.83,488.38 692.46,489.86"/>
<text class="t" x="697.79" y="481.60" font-size="13.0" textLength="36.02" lengthAdjust="spacingAndGlyphs">ø1.02</text>
</svg>
</body></html>
